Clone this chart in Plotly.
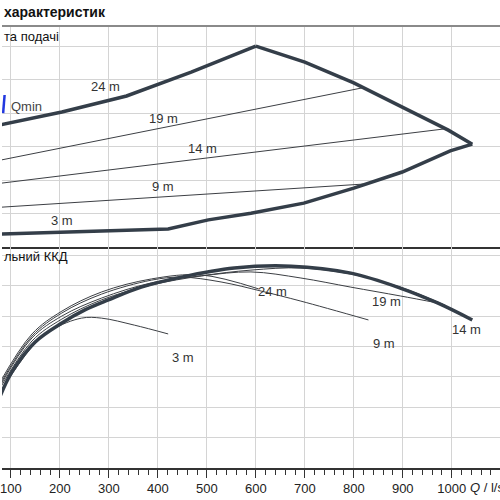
import plotly.graph_objects as go
from plotly.subplots import make_subplots

# top panel: operating range
q_24 = [60, 204, 336, 468, 600]
h_24 = [35.9, 40.3, 45.1, 52.2, 60.0]
q_max = [600, 700, 800, 895, 993, 1042]
h_max = [60.0, 55.2, 49.0, 42.1, 34.9, 30.7]
q_3 = [60, 200, 421, 503, 590, 698, 800, 899, 997, 1042]
h_3 = [3.8, 4.5, 5.4, 8.1, 10.1, 13.1, 17.6, 22.4, 28.7, 30.7]
q_19 = [60, 820]
h_19 = [25.4, 47.6]
q_14 = [60, 987]
h_14 = [18.7, 35.3]
q_9 = [60, 820]
h_9 = [11.7, 18.8]
q_qmin = [84, 87]
h_qmin = [40.0, 45.4]

# bottom panel: efficiency
eq_max = [75, 102, 149, 204, 251, 299, 366, 448, 556, 672, 794, 895, 971, 1042]
e_max = [22.5, 31.6, 41.4, 47.7, 52.0, 55.3, 59.5, 62.8, 65.8, 66.4, 64.1, 59.2, 54.3, 48.7]
eq_24 = [75, 143, 204, 285, 387, 489, 606]
e_24 = [27.5, 44.1, 51.6, 57.9, 62.2, 63.5, 58.9]
eq_19 = [75, 143, 204, 285, 387, 489, 590, 692, 794, 895, 971]
e_19 = [26.2, 42.8, 50.0, 55.9, 60.9, 63.2, 64.5, 62.5, 59.5, 56.6, 54.3]
eq_14 = [75, 143, 204, 285, 387, 489, 590, 692, 794, 895, 987]
e_14 = [25.5, 41.8, 49.0, 55.3, 60.2, 63.2, 65.1, 65.8, 63.8, 59.5, 53.5]
eq_9 = [75, 143, 204, 285, 387, 448, 529, 611, 692, 830]
e_9 = [26.8, 43.4, 51.0, 57.2, 61.8, 62.8, 61.2, 58.2, 54.9, 48.7]
eq_3 = [75, 143, 183, 244, 285, 352, 421]
e_3 = [24.2, 39.8, 45.4, 49.3, 49.3, 47.0, 44.1]

top_labels = ["24 m", "19 m", "14 m", "9 m", "3 m"]
top_lab_q = [293, 411, 492, 411, 204]
top_lab_h = [47.8, 38.5, 29.3, 18.2, 7.8]
bot_labels = ["24 m", "19 m", "14 m", "9 m", "3 m"]
bot_lab_q = [635, 866, 1030, 862, 452]
bot_lab_e = [57.9, 54.9, 45.7, 41.1, 36.5]

dark = "#343e49"
thin = "#3c3f44"
font = "Liberation Sans, Arial, sans-serif"

fig = make_subplots(rows=2, cols=1, shared_xaxes=True, vertical_spacing=0)

for q, h in [(q_19, h_19), (q_14, h_14), (q_9, h_9)]:
    fig.add_trace(go.Scatter(x=q, y=h, mode="lines", line=dict(color=thin, width=1)), row=1, col=1)
for q, h in [(q_24, h_24), (q_max, h_max), (q_3, h_3)]:
    fig.add_trace(go.Scatter(x=q, y=h, mode="lines", line=dict(color=dark, width=3.5)), row=1, col=1)
fig.add_trace(go.Scatter(x=q_qmin, y=h_qmin, mode="lines", line=dict(color="#2238e0", width=2.5)), row=1, col=1)

for q, e in [(eq_24, e_24), (eq_19, e_19), (eq_14, e_14), (eq_9, e_9), (eq_3, e_3)]:
    fig.add_trace(go.Scatter(x=q, y=e, mode="lines", line=dict(color=thin, width=1, shape="spline")), row=2, col=1)
fig.add_trace(go.Scatter(x=eq_max, y=e_max, mode="lines", line=dict(color=dark, width=3.5, shape="spline")), row=2, col=1)

for t, q, h in zip(top_labels, top_lab_q, top_lab_h):
    fig.add_annotation(x=q, y=h, xref="x", yref="y", text=t, showarrow=False,
                       font=dict(size=13, color="#333"))
for t, q, e in zip(bot_labels, bot_lab_q, bot_lab_e):
    fig.add_annotation(x=q, y=e, xref="x2", yref="y2", text=t, showarrow=False,
                       font=dict(size=13, color="#333"))
fig.add_annotation(x=96, y=42.1, xref="x", yref="y", text="Qmin", showarrow=False,
                   xanchor="left", yanchor="middle", font=dict(size=13, color="#444"))

fig.add_annotation(x=0, y=1.0317, xref="paper", yref="paper", text="<b>характеристик</b>",
                   showarrow=False, xanchor="left", yanchor="middle", font=dict(size=14, color="#111"))
fig.add_annotation(x=0, y=0.977, xref="paper", yref="paper", text="та подачі",
                   showarrow=False, xanchor="left", yanchor="middle", font=dict(size=13, color="#111"))
fig.add_annotation(x=0, y=0.4796, xref="paper", yref="paper", text="льний ККД",
                   showarrow=False, xanchor="left", yanchor="middle", font=dict(size=13, color="#111"))
fig.add_annotation(x=0.936, y=-0.045, xref="paper", yref="paper", text="<i>Q</i> / l/s",
                   showarrow=False, xanchor="left", yanchor="middle", font=dict(size=13, color="#222"))

fig.add_shape(type="line", xref="paper", yref="paper", x0=0, x1=1, y0=1, y1=1,
              line=dict(color="#8a8a8a", width=2))

grid = "#d4d4d4"
fig.update_xaxes(range=[81.7, 1098.6], dtick=100, tick0=0, showgrid=True, gridcolor=grid,
                 zeroline=False, showline=True, linecolor="#333", linewidth=1.5)
fig.update_xaxes(showticklabels=False, ticks="", row=1, col=1)
fig.update_xaxes(ticks="outside", ticklen=8, tickcolor="#333", tickwidth=1,
                 ticklabeloverflow="allow",
                 tickfont=dict(size=13, color="#222", family=font),
                 minor=dict(dtick=20, ticks="outside", ticklen=5, tickcolor="#333", showgrid=False),
                 row=2, col=1)
fig.update_yaxes(range=[0, 66], dtick=10, showgrid=True, gridcolor=grid, zeroline=False,
                 showticklabels=False, row=1, col=1)
fig.update_yaxes(range=[0, 72.7], dtick=10, showgrid=True, gridcolor=grid, zeroline=False,
                 showticklabels=False, row=2, col=1)

fig.update_layout(width=500, height=500, showlegend=False,
                  margin=dict(l=0, r=0, t=26, b=32),
                  plot_bgcolor="white", paper_bgcolor="white",
                  font=dict(family=font))
fig.write_html("out.html", config={"displayModeBar": False},
               post_script="document.body.style.margin='0';")
